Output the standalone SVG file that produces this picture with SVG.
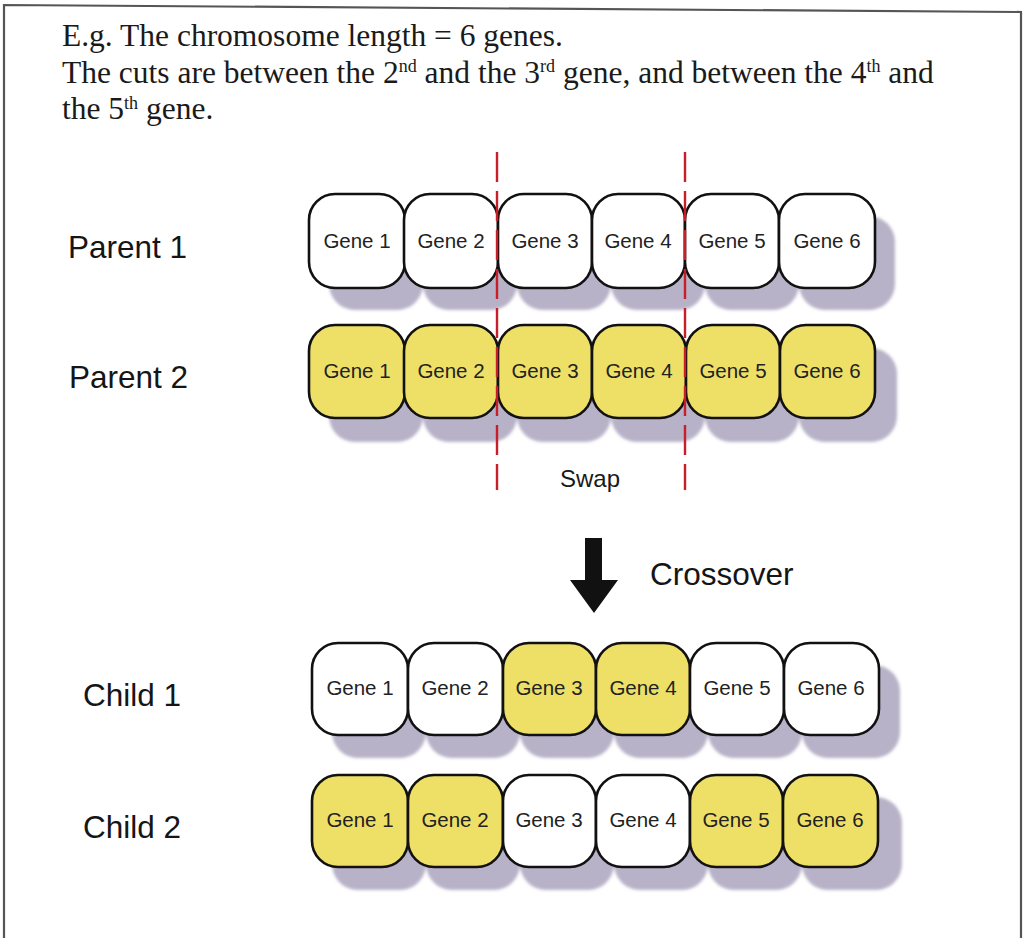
<svg xmlns="http://www.w3.org/2000/svg" width="1025" height="940" viewBox="0 0 1025 940">
  <style>
    .intro { font-family: "Liberation Serif", "Times New Roman", serif; font-size: 31.5px; fill: #1a1a1a; }
    .sup { font-size: 18px; }
    .label { font-family: "Liberation Sans", Arial, sans-serif; font-size: 31.5px; fill: #151515; }
    .gene { fill: #ffffff; stroke: #111111; stroke-width: 2.6; }
    .gene.y { fill: #eee067; }
    .gtxt { font-family: "Liberation Sans", Arial, sans-serif; font-size: 20.5px; fill: #222222; text-anchor: middle; }
    .shadow { fill: #b8b2c8; }
    .cut { stroke: #c81e2a; stroke-width: 2.4; stroke-dasharray: 30 9; fill: none; }
  </style>
  <defs>
    <filter id="soft" x="-10%" y="-10%" width="120%" height="120%">
      <feGaussianBlur stdDeviation="1.8"/>
    </filter>
  </defs>

  <rect x="0" y="0" width="1025" height="940" fill="#ffffff"/>
  <!-- frame -->
  <path d="M4,938 L4,5 L1021,12 L1021,938" fill="none" stroke="#555555" stroke-width="2.2"/>

  <!-- introduction text -->
  <g id="intro">
    <text class="intro" x="62" y="46">E.g. The chromosome length = 6 genes.</text>
    <text class="intro" x="62" y="83">The cuts are between the 2<tspan class="sup" dy="-11">nd</tspan><tspan dy="11"> and the 3</tspan><tspan class="sup" dy="-11">rd</tspan><tspan dy="11"> gene, and between the 4</tspan><tspan class="sup" dy="-11">th</tspan><tspan dy="11"> and</tspan></text>
    <text class="intro" x="62" y="119">the 5<tspan class="sup" dy="-10">th</tspan><tspan dy="10"> gene.</tspan></text>
  </g>

  <!-- row labels -->
  <text id="label-parent1" class="label" x="68" y="258">Parent 1</text>
  <text id="label-parent2" class="label" x="69" y="388">Parent 2</text>
  <text id="label-child1" class="label" x="83" y="706">Child 1</text>
  <text id="label-child2" class="label" x="83" y="838">Child 2</text>

  <!-- Parent 1 -->
  <g id="parent1">
    <g filter="url(#soft)">
      <rect class="shadow" x="329" y="216" width="94" height="94" rx="26"/>
      <rect class="shadow" x="423" y="216" width="94" height="94" rx="26"/>
      <rect class="shadow" x="517" y="216" width="94" height="94" rx="26"/>
      <rect class="shadow" x="611" y="216" width="94" height="94" rx="26"/>
      <rect class="shadow" x="705" y="216" width="94" height="94" rx="26"/>
      <rect class="shadow" x="799" y="216" width="96" height="94" rx="26"/>
    </g>
    <g id="p1-g1"><rect class="gene" x="309" y="194" width="96" height="94" rx="26"/><text class="gtxt" x="357" y="248">Gene 1</text></g>
    <g id="p1-g2"><rect class="gene" x="404" y="194" width="94" height="94" rx="26"/><text class="gtxt" x="451" y="248">Gene 2</text></g>
    <g id="p1-g3"><rect class="gene" x="498" y="194" width="94" height="94" rx="26"/><text class="gtxt" x="545" y="248">Gene 3</text></g>
    <g id="p1-g4"><rect class="gene" x="592" y="194" width="93" height="94" rx="26"/><text class="gtxt" x="638" y="248">Gene 4</text></g>
    <g id="p1-g5"><rect class="gene" x="685" y="194" width="94" height="94" rx="26"/><text class="gtxt" x="732" y="248">Gene 5</text></g>
    <g id="p1-g6"><rect class="gene" x="779" y="194" width="96" height="94" rx="26"/><text class="gtxt" x="827" y="248">Gene 6</text></g>
  </g>

  <!-- Parent 2 -->
  <g id="parent2">
    <g filter="url(#soft)">
      <rect class="shadow" x="329" y="348" width="94" height="94" rx="26"/>
      <rect class="shadow" x="423" y="348" width="94" height="94" rx="26"/>
      <rect class="shadow" x="517" y="348" width="94" height="94" rx="26"/>
      <rect class="shadow" x="611" y="348" width="94" height="94" rx="26"/>
      <rect class="shadow" x="705" y="348" width="94" height="94" rx="26"/>
      <rect class="shadow" x="799" y="348" width="98" height="94" rx="26"/>
    </g>
    <g id="p2-g1"><rect class="gene y" x="309" y="325" width="96" height="93" rx="26"/><text class="gtxt" x="357" y="378">Gene 1</text></g>
    <g id="p2-g2"><rect class="gene y" x="404" y="325" width="94" height="93" rx="26"/><text class="gtxt" x="451" y="378">Gene 2</text></g>
    <g id="p2-g3"><rect class="gene y" x="498" y="325" width="94" height="93" rx="26"/><text class="gtxt" x="545" y="378">Gene 3</text></g>
    <g id="p2-g4"><rect class="gene y" x="592" y="325" width="94" height="93" rx="26"/><text class="gtxt" x="639" y="378">Gene 4</text></g>
    <g id="p2-g5"><rect class="gene y" x="686" y="325" width="94" height="93" rx="26"/><text class="gtxt" x="733" y="378">Gene 5</text></g>
    <g id="p2-g6"><rect class="gene y" x="780" y="325" width="95" height="93" rx="26"/><text class="gtxt" x="827" y="378">Gene 6</text></g>
  </g>

  <!-- cut points and crossover step -->
  <g id="connectors">
    <line class="cut" x1="497" y1="152" x2="497" y2="490"/>
    <line class="cut" x1="685" y1="152" x2="685" y2="490"/>
    <polygon points="585,538 602,538 602,580 618,580 594,613 570,580 585,580" fill="#111111"/>
  </g>
  <text id="label-swap" x="560" y="487" font-family="Liberation Sans, Arial, sans-serif" font-size="24" fill="#1a1a1a">Swap</text>
  <text id="label-crossover" class="label" x="650" y="585">Crossover</text>

  <!-- Child 1 -->
  <g id="child1">
    <g filter="url(#soft)">
      <rect class="shadow" x="332" y="665" width="94" height="93" rx="26"/>
      <rect class="shadow" x="426" y="665" width="94" height="93" rx="26"/>
      <rect class="shadow" x="520" y="665" width="94" height="93" rx="26"/>
      <rect class="shadow" x="614" y="665" width="94" height="93" rx="26"/>
      <rect class="shadow" x="708" y="665" width="94" height="93" rx="26"/>
      <rect class="shadow" x="802" y="665" width="98" height="93" rx="26"/>
    </g>
    <g id="c1-g1"><rect class="gene" x="312" y="643" width="96" height="92" rx="26"/><text class="gtxt" x="360" y="695">Gene 1</text></g>
    <g id="c1-g2"><rect class="gene" x="408" y="643" width="95" height="92" rx="26"/><text class="gtxt" x="455" y="695">Gene 2</text></g>
    <g id="c1-g3"><rect class="gene y" x="503" y="643" width="93" height="92" rx="26"/><text class="gtxt" x="549" y="695">Gene 3</text></g>
    <g id="c1-g4"><rect class="gene y" x="596" y="643" width="94" height="92" rx="26"/><text class="gtxt" x="643" y="695">Gene 4</text></g>
    <g id="c1-g5"><rect class="gene" x="690" y="643" width="94" height="92" rx="26"/><text class="gtxt" x="737" y="695">Gene 5</text></g>
    <g id="c1-g6"><rect class="gene" x="784" y="643" width="95" height="92" rx="26"/><text class="gtxt" x="831" y="695">Gene 6</text></g>
  </g>

  <!-- Child 2 -->
  <g id="child2">
    <g filter="url(#soft)">
      <rect class="shadow" x="332" y="797" width="94" height="93" rx="26"/>
      <rect class="shadow" x="426" y="797" width="94" height="93" rx="26"/>
      <rect class="shadow" x="520" y="797" width="94" height="93" rx="26"/>
      <rect class="shadow" x="614" y="797" width="94" height="93" rx="26"/>
      <rect class="shadow" x="708" y="797" width="94" height="93" rx="26"/>
      <rect class="shadow" x="802" y="797" width="100" height="93" rx="26"/>
    </g>
    <g id="c2-g1"><rect class="gene y" x="312" y="775" width="96" height="92" rx="26"/><text class="gtxt" x="360" y="827">Gene 1</text></g>
    <g id="c2-g2"><rect class="gene y" x="408" y="775" width="95" height="92" rx="26"/><text class="gtxt" x="455" y="827">Gene 2</text></g>
    <g id="c2-g3"><rect class="gene" x="503" y="775" width="93" height="92" rx="26"/><text class="gtxt" x="549" y="827">Gene 3</text></g>
    <g id="c2-g4"><rect class="gene" x="596" y="775" width="94" height="92" rx="26"/><text class="gtxt" x="643" y="827">Gene 4</text></g>
    <g id="c2-g5"><rect class="gene y" x="690" y="775" width="93" height="92" rx="26"/><text class="gtxt" x="736" y="827">Gene 5</text></g>
    <g id="c2-g6"><rect class="gene y" x="783" y="775" width="95" height="92" rx="26"/><text class="gtxt" x="830" y="827">Gene 6</text></g>
  </g>
</svg>
